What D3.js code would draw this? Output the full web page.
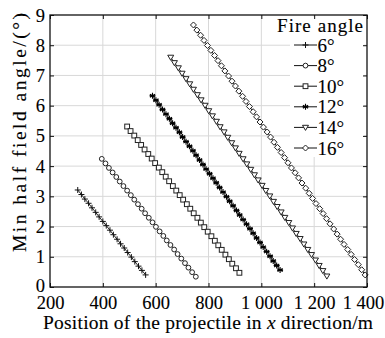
<!DOCTYPE html>
<html>
<head>
<meta charset="utf-8">
<script src="https://cdn.jsdelivr.net/npm/d3@7"></script>
<style>
  body { margin: 0; background: #fff; }
  svg text { font-family: "Liberation Serif", "Times New Roman", serif; fill: #000; stroke: #000; stroke-width: 0.12px; }
</style>
</head>
<body>
<svg width="385" height="338"></svg>
<script>
// tick labels
var xTicks = [200, 400, 600, 800, 1000, 1200, 1400];
var yTicks = [0, 1, 2, 3, 4, 5, 6, 7, 8, 9];

// fire angles (legend)
var angles = ["6°", "8°", "10°", "12°", "14°", "16°"];

// series
var x6 = [305, 319, 332, 346, 359, 373, 386, 400, 413, 427, 440, 454, 467, 481, 494, 508, 521, 535, 548, 562];
var y6 = [3.21, 3.06, 2.91, 2.77, 2.62, 2.47, 2.32, 2.17, 2.03, 1.88, 1.73, 1.58, 1.43, 1.29, 1.14, 0.99, 0.84, 0.69, 0.55, 0.40];

var x8 = [396, 410, 423, 437, 451, 464, 478, 492, 506, 519, 533, 547, 560, 574, 588, 601, 615, 629, 642, 656, 670, 683, 697, 711, 724, 738, 752];
var y8 = [4.24, 4.09, 3.94, 3.79, 3.64, 3.49, 3.34, 3.19, 3.04, 2.89, 2.74, 2.59, 2.44, 2.29, 2.14, 1.99, 1.84, 1.69, 1.54, 1.39, 1.24, 1.09, 0.94, 0.79, 0.64, 0.49, 0.34];

var x10 = [492, 505, 519, 532, 545, 558, 572, 585, 598, 612, 625, 638, 651, 665, 678, 691, 704, 718, 731, 744, 758, 771, 784, 797, 811, 824, 837, 850, 864, 877, 890, 904, 917];
var y10 = [5.31, 5.16, 5.01, 4.86, 4.70, 4.55, 4.40, 4.25, 4.10, 3.95, 3.80, 3.65, 3.50, 3.34, 3.19, 3.04, 2.89, 2.74, 2.59, 2.44, 2.29, 2.13, 1.98, 1.83, 1.68, 1.53, 1.38, 1.23, 1.07, 0.92, 0.77, 0.62, 0.47];

var x12 = [588, 601, 613, 626, 639, 652, 664, 677, 690, 702, 715, 728, 741, 753, 766, 779, 791, 804, 817, 829, 842, 855, 868, 880, 893, 906, 918, 931, 944, 957, 969, 982, 995, 1007, 1020, 1033, 1045, 1058, 1071];
var y12 = [6.33, 6.18, 6.03, 5.87, 5.72, 5.57, 5.42, 5.27, 5.12, 4.96, 4.81, 4.66, 4.51, 4.36, 4.20, 4.05, 3.90, 3.75, 3.60, 3.45, 3.29, 3.14, 2.99, 2.84, 2.69, 2.53, 2.38, 2.23, 2.08, 1.93, 1.78, 1.62, 1.47, 1.32, 1.17, 1.02, 0.86, 0.71, 0.56];

var x14 = [657, 671, 686, 700, 715, 729, 743, 758, 772, 787, 801, 815, 830, 844, 859, 873, 888, 902, 916, 931, 945, 960, 974, 988, 1003, 1017, 1032, 1046, 1060, 1075, 1089, 1104, 1118, 1132, 1147, 1161, 1176, 1190, 1205, 1219, 1233, 1248];
var y14 = [7.60, 7.42, 7.25, 7.07, 6.89, 6.72, 6.54, 6.36, 6.19, 6.01, 5.83, 5.66, 5.48, 5.30, 5.13, 4.95, 4.77, 4.60, 4.42, 4.24, 4.07, 3.89, 3.71, 3.54, 3.36, 3.19, 3.01, 2.83, 2.66, 2.48, 2.30, 2.13, 1.95, 1.77, 1.60, 1.42, 1.24, 1.07, 0.89, 0.71, 0.54, 0.36];

var x16 = [743, 756, 770, 783, 796, 809, 823, 836, 849, 862, 876, 889, 902, 915, 929, 942, 955, 969, 982, 995, 1008, 1022, 1035, 1048, 1061, 1075, 1088, 1101, 1114, 1128, 1141, 1154, 1168, 1181, 1194, 1207, 1221, 1234, 1247, 1260, 1274, 1287, 1300, 1313, 1327, 1340, 1353, 1367, 1380, 1393];
var y16 = [8.67, 8.50, 8.33, 8.16, 7.99, 7.83, 7.66, 7.49, 7.32, 7.15, 6.98, 6.81, 6.65, 6.48, 6.31, 6.14, 5.97, 5.80, 5.63, 5.46, 5.29, 5.13, 4.96, 4.79, 4.62, 4.45, 4.28, 4.11, 3.94, 3.78, 3.61, 3.44, 3.27, 3.10, 2.93, 2.76, 2.59, 2.43, 2.26, 2.09, 1.92, 1.75, 1.58, 1.41, 1.24, 1.08, 0.91, 0.74, 0.57, 0.40];

var xs = [x6, x8, x10, x12, x14, x16];
var ys = [y6, y8, y10, y12, y14, y16];
var markers = ["plus", "circle", "square", "star", "tridown", "diamond"];

var serif = '"Liberation Serif", "Times New Roman", serif';
var svg = d3.select("svg");
var mLeft = 50, mRight = 367, mTop = 15, mBottom = 287;

var x = d3.scaleLinear().domain([200, 1400]).range([mLeft, mRight]);
var y = d3.scaleLinear().domain([0, 9]).range([mBottom, mTop]);

// grid
var grid = svg.append("g");
grid.selectAll(".gx").data(xTicks.slice(1, -1)).enter().append("line")
  .attr("x1", d => x(d)).attr("x2", d => x(d))
  .attr("y1", mTop).attr("y2", mBottom)
  .attr("stroke", "#d8d8d8").attr("stroke-width", 1);
grid.selectAll(".gy").data(yTicks.slice(1, -1)).enter().append("line")
  .attr("x1", mLeft).attr("x2", mRight)
  .attr("y1", d => y(d)).attr("y2", d => y(d))
  .attr("stroke", "#d8d8d8").attr("stroke-width", 1);

// marker shapes
function drawMarker(g, type, cx, cy) {
  var s = 2.4;
  if (type == "plus") {
    g.append("path").attr("d", "M" + (cx - s - 0.6) + "," + cy + "h" + (2 * s + 1.2) + "M" + cx + "," + (cy - s - 0.6) + "v" + (2 * s + 1.2))
      .attr("stroke", "#111").attr("stroke-width", 1).attr("fill", "none");
  } else if (type == "circle") {
    g.append("circle").attr("cx", cx).attr("cy", cy).attr("r", s)
      .attr("stroke", "#222").attr("stroke-width", 1).attr("fill", "#fff");
  } else if (type == "square") {
    g.append("rect").attr("x", cx - s).attr("y", cy - s).attr("width", 2 * s).attr("height", 2 * s)
      .attr("stroke", "#222").attr("stroke-width", 1).attr("fill", "#fff");
  } else if (type == "star") {
    var r = s + 0.6;
    var p = "";
    for (var i = 0; i < 3; i++) {
      var a = Math.PI / 2 + i * Math.PI / 3;
      p += "M" + (cx - r * Math.cos(a)) + "," + (cy - r * Math.sin(a)) + "L" + (cx + r * Math.cos(a)) + "," + (cy + r * Math.sin(a));
    }
    p += "M" + (cx - r) + "," + cy + "h" + (2 * r);
    g.append("path").attr("d", p).attr("stroke", "#000").attr("stroke-width", 1.1).attr("fill", "none");
  } else if (type == "tridown") {
    var t = s + 0.6;
    g.append("path").attr("d", "M" + (cx - t) + "," + (cy - t * 0.7) + "L" + (cx + t) + "," + (cy - t * 0.7) + "L" + cx + "," + (cy + t) + "Z")
      .attr("stroke", "#222").attr("stroke-width", 1).attr("fill", "#fff");
  } else if (type == "diamond") {
    var q = s + 0.6;
    g.append("path").attr("d", "M" + cx + "," + (cy - q) + "L" + (cx + q) + "," + cy + "L" + cx + "," + (cy + q) + "L" + (cx - q) + "," + cy + "Z")
      .attr("stroke", "#222").attr("stroke-width", 1).attr("fill", "#fff");
  }
}

// series
var line = d3.line().x(d => x(d[0])).y(d => y(d[1]));
for (var k = 0; k < xs.length; k++) {
  var pts = xs[k].map((v, i) => [v, ys[k][i]]);
  var g = svg.append("g");
  g.append("path").datum(pts).attr("d", line)
    .attr("fill", "none").attr("stroke", "#222").attr("stroke-width", 1);
  pts.forEach(p => drawMarker(g, markers[k], x(p[0]), y(p[1])));
}

// legend
var leg = svg.append("g");
leg.append("rect").attr("x", 290).attr("y", 17).attr("width", 74).attr("height", 140).attr("fill", "#fff");
leg.append("text").attr("x", 277).attr("y", 32)
  .attr("font-size", 19).attr("textLength", 86).attr("lengthAdjust", "spacing")
  .style("font-family", serif).text("Fire angle");
angles.forEach(function(a, i) {
  var ly = 45 + i * 20.6;
  var lg = leg.append("g");
  lg.append("line").attr("x1", 294).attr("x2", 317).attr("y1", ly).attr("y2", ly)
    .attr("stroke", "#111").attr("stroke-width", 1);
  drawMarker(lg, markers[i], 305.5, ly);
  lg.append("text").attr("x", 317.5).attr("y", ly + 6.5).attr("font-size", 19)
    .style("font-family", serif).text(a);
});

// frame and axes
svg.append("rect").attr("x", mLeft).attr("y", mTop)
  .attr("width", mRight - mLeft).attr("height", mBottom - mTop)
  .attr("fill", "none").attr("stroke", "#111").attr("stroke-width", 1.3);

var fmtX = d => d >= 1000 ? String(d).charAt(0) + " " + String(d).slice(1) : String(d);
var xAxis = svg.append("g").attr("transform", "translate(0," + mBottom + ")")
  .call(d3.axisBottom(x).tickValues(xTicks).tickSize(-4).tickPadding(9).tickFormat(fmtX));
var xAxisTop = svg.append("g").attr("transform", "translate(0," + mTop + ")")
  .call(d3.axisTop(x).tickValues(xTicks).tickSize(-4).tickFormat(""));
var yAxis = svg.append("g").attr("transform", "translate(" + mLeft + ",0)")
  .call(d3.axisLeft(y).tickValues(yTicks).tickSize(-4).tickPadding(5));
var yAxisRight = svg.append("g").attr("transform", "translate(" + mRight + ",0)")
  .call(d3.axisRight(y).tickValues(yTicks).tickSize(-4).tickFormat(""));

[xAxis, xAxisTop, yAxis, yAxisRight].forEach(function(a) {
  a.attr("font-family", null).attr("font-size", null);
  a.select(".domain").remove();
  a.selectAll(".tick line").attr("stroke", "#111").attr("stroke-width", 1);
  a.selectAll("text").attr("font-size", 18.5).attr("fill", "#000").style("font-family", serif);
});
yAxis.selectAll("text").attr("dy", "0.33em");
xAxis.selectAll("text").attr("dy", "0.71em");
// the "0" label sits a little higher in the reference
yAxis.selectAll("text").filter(d => d == 0).attr("dy", "0.22em");
// last label sits against the right edge in the reference
xAxis.selectAll("text").filter(d => d == 1400).attr("dx", -4);

// axis titles
svg.append("text").attr("x", 43).attr("y", 329)
  .attr("font-size", 19.5).attr("textLength", 330).attr("lengthAdjust", "spacing")
  .style("font-family", serif)
  .html('Position of the projectile in <tspan font-style="italic">x</tspan> direction/m');
svg.append("text").attr("transform", "translate(26,252) rotate(-90)")
  .attr("font-size", 19.5).attr("textLength", 239).attr("lengthAdjust", "spacing")
  .style("font-family", serif)
  .text("Min half field angle/(°)");
</script>
</body>
</html>
